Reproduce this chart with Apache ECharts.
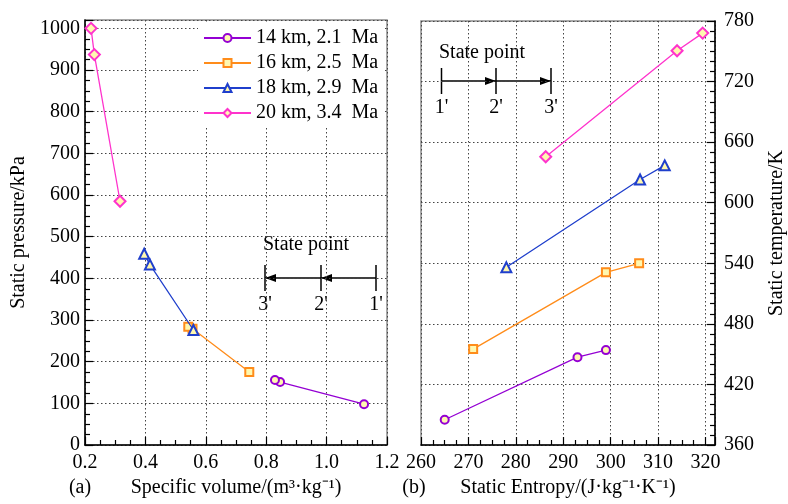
<!DOCTYPE html>
<html>
<head>
<meta charset="utf-8">
<script src="https://cdn.jsdelivr.net/npm/echarts@6/dist/echarts.min.js"></script>
<style>
  html, body { margin: 0; background: #fff; }
  #chart { width: 788px; height: 504px; }
</style>
</head>
<body>
<div id="chart"></div>
<script>
// series names
const seriesNames = ['14 km, 2.1  Ma', '16 km, 2.5  Ma', '18 km, 2.9  Ma', '20 km, 3.4  Ma'];

// (a) specific volume (m3/kg) vs static pressure (kPa), states 1' 2' 3'
const volume14 = [1.124, 0.846, 0.829];
const pressure14 = [98, 151, 156];
const volume16 = [0.744, 0.556, 0.542];
const pressure16 = [175, 279, 284];
const volume18 = [0.559, 0.415, 0.396];
const pressure18 = [276, 433, 459];
const volume20 = [0.316, 0.231, 0.220];
const pressure20 = [585, 937, 1000];

// (b) static entropy (J/kg/K) vs static temperature (K)
const entropy14 = [265, 293, 299];
const temp14 = [385, 447, 454];
const entropy16 = [271, 299, 306];
const temp16 = [455, 531, 540];
const entropy18 = [278, 306.2, 311.4];
const temp18 = [536, 623, 637];
const entropy20 = [286.3, 314, 319.4];
const temp20 = [645.5, 750.5, 768];

const colors = ['#9400d3', '#ff8c1a', '#1f3fcc', '#ff33cc'];
const symbols = ['circle', 'rect', 'triangle', 'diamond'];
const symbolSizes = [8, 8, 10, 11];
const fillColor = '#fff8b0';
const font = "'Liberation Serif', 'Times New Roman', serif";
const fontSize = 20;

function zip(xs, ys) {
    return xs.map((x, i) => [x, ys[i]]);
}

const leftData = [zip(volume14, pressure14), zip(volume16, pressure16), zip(volume18, pressure18), zip(volume20, pressure20)];
const rightData = [zip(entropy14, temp14), zip(entropy16, temp16), zip(entropy18, temp18), zip(entropy20, temp20)];

function makeAxis(opts) {
    return Object.assign({
        type: 'value',
        nameLocation: 'middle',
        nameTextStyle: { fontFamily: font, fontSize: fontSize, color: '#000' },
        axisLine: { show: true, onZero: false, lineStyle: { color: '#000', width: 1.5 } },
        axisTick: { show: true, inside: true, length: 8, lineStyle: { color: '#000', width: 1.2 } },
        minorTick: { show: true, splitNumber: 4, length: 5, lineStyle: { color: '#000', width: 1.2 } },
        splitLine: { show: true, lineStyle: { color: '#444', width: 1, type: [1.5, 2.5] } },
        axisLabel: { fontFamily: font, fontSize: fontSize, color: '#000', margin: 8 }
    }, opts);
}

function makeSeries(data, axisIndex) {
    return data.map((d, i) => ({
        name: seriesNames[i],
        type: 'line',
        xAxisIndex: axisIndex,
        yAxisIndex: axisIndex,
        data: d,
        color: colors[i],
        symbol: symbols[i],
        symbolSize: symbolSizes[i],
        showAllSymbol: true,
        lineStyle: { color: colors[i], width: 1.3 },
        itemStyle: { color: fillColor, borderColor: colors[i], borderWidth: 2 },
        z: 3 + i
    }));
}

function stateMarker(x0, xm, x1, y, pointRight, labels) {
    const els = [];
    els.push({ type: 'line', shape: { x1: x0, y1: y, x2: x1, y2: y }, style: { stroke: '#000', lineWidth: 1.5 } });
    [x0, xm, x1].forEach((x, i) => {
        els.push({ type: 'line', shape: { x1: x, y1: y - 13, x2: x, y2: y + 13 }, style: { stroke: '#000', lineWidth: 1.5 } });
        els.push({ type: 'text', x: x, y: y + 27, style: { text: labels[i], font: fontSize + 'px ' + font, fill: '#000', align: 'center', verticalAlign: 'middle' } });
    });
    const tips = pointRight ? [xm, x1] : [x0, xm];
    tips.forEach(t => {
        const d = pointRight ? -11 : 11;
        els.push({ type: 'polygon', shape: { points: [[t, y], [t + d, y - 4], [t + d, y + 4]] }, style: { fill: '#000' } });
    });
    return els;
}

const chart = echarts.init(document.getElementById('chart'));

chart.setOption({
    animation: false,
    backgroundColor: '#fff',
    grid: [
        { left: 85, right: 401, top: 20, bottom: 59, show: true, borderColor: '#8c8c8c', borderWidth: 1.5 },
        { left: 421, right: 65, top: 21, bottom: 59, show: true, borderColor: '#8c8c8c', borderWidth: 1.5 }
    ],
    xAxis: [
        makeAxis({
            gridIndex: 0, min: 0.2, max: 1.2, interval: 0.2,
            name: 'Specific volume/(m³·kg⁻¹)', nameGap: 32,
            axisLabel: { fontFamily: font, fontSize: fontSize, color: '#000', margin: 8, formatter: v => v.toFixed(1) }
        }),
        makeAxis({
            gridIndex: 1, min: 260, max: 322, interval: 10,
            name: 'Static Entropy/(J·kg⁻¹·K⁻¹)', nameGap: 32,
            axisLabel: { fontFamily: font, fontSize: fontSize, color: '#000', margin: 8, formatter: v => (v % 10 === 0 ? String(v) : '') }
        })
    ],
    yAxis: [
        makeAxis({
            gridIndex: 0, min: 0, max: 1020, interval: 100,
            name: 'Static pressure/kPa', nameGap: 56, nameRotate: 90,
            axisLabel: { fontFamily: font, fontSize: fontSize, color: '#000', margin: 5, formatter: v => (v % 100 === 0 ? String(v) : '') }
        }),
        makeAxis({
            gridIndex: 1, position: 'right', min: 360, max: 780, interval: 60,
            name: 'Static temperature/K', nameGap: 52, nameRotate: 90,
            minorTick: { show: true, splitNumber: 6, length: 5, lineStyle: { color: '#000', width: 1.2 } },
            axisLabel: { fontFamily: font, fontSize: fontSize, color: '#000', margin: 9 }
        })
    ],
    legend: {
        orient: 'vertical',
        left: 198,
        top: 23,
        padding: [5, 5, 5, 5],
        backgroundColor: '#fff',
        itemWidth: 47,
        itemHeight: 10,
        itemGap: 5,
        selectedMode: false,
        textStyle: { fontFamily: font, fontSize: fontSize, color: '#000', lineHeight: 20 },
        data: seriesNames
    },
    graphic: [
        { type: 'text', x: 80, y: 488, style: { text: '(a)', font: fontSize + 'px ' + font, fill: '#000', align: 'center', verticalAlign: 'middle' } },
        { type: 'text', x: 414, y: 488, style: { text: '(b)', font: fontSize + 'px ' + font, fill: '#000', align: 'center', verticalAlign: 'middle' } },
        { type: 'text', x: 263, y: 245, style: { text: 'State point', font: fontSize + 'px ' + font, fill: '#000', verticalAlign: 'middle' } },
        { type: 'text', x: 439, y: 53, style: { text: 'State point', font: fontSize + 'px ' + font, fill: '#000', verticalAlign: 'middle' } }
    ].concat(
        stateMarker(265, 321, 376, 278, false, ["3'", "2'", "1'"]),
        stateMarker(441.5, 496, 551, 81, true, ["1'", "2'", "3'"])
    ),
    series: makeSeries(leftData, 0).concat(makeSeries(rightData, 1))
});
</script>
</body>
</html>
